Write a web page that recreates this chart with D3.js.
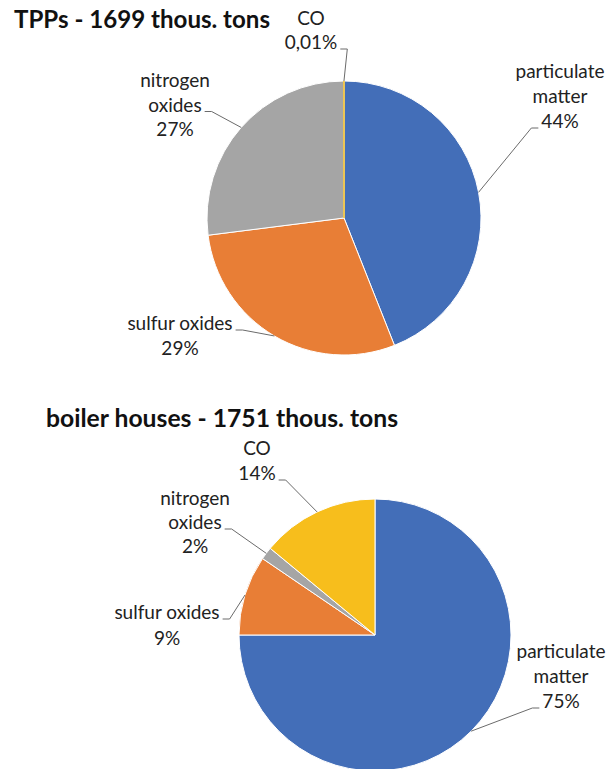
<!DOCTYPE html>
<html><head><meta charset="utf-8">
<script src="https://cdn.jsdelivr.net/npm/d3@7"></script>
<style>
body{margin:0;background:#fff}
svg{display:block}
text{font-family:Lato,"Open Sans",sans-serif}
</style>
</head><body>
<svg id="c" width="614" height="769"></svg>
<script>
// ---- data ----
const categories = ["particulate matter", "sulfur oxides", "nitrogen oxides", "CO"];
const tppValues = [44, 29, 27, 0.01];
const tppPercentLabels = ["44%", "29%", "27%", "0,01%"];
const boilerValues = [75, 9.5, 1.5, 14];
const boilerPercentLabels = ["75%", "9%", "2%", "14%"];
const colors = ["#436EB8", "#E87E36", "#A5A5A5", "#F7BE1C"];
const titles = ["TPPs - 1699 thous. tons", "boiler houses - 1751 thous. tons"];

// ---- layout ----
const charts = [
  { title: titles[0], values: tppValues, pct: tppPercentLabels, cx: 344, cy: 218, r: 137, tx: 14, ty: 28, tw: 256,
    labels: [
      { lines: ["particulate", "matter"], x: 560, y: 78, lh: 25, side: "left", attach: 2 },
      { lines: ["sulfur oxides"], x: 180, y: 330, lh: 25, side: "right", attach: 0 },
      { lines: ["nitrogen", "oxides"], x: 175, y: 87, lh: 24.5, side: "right", attach: 1 },
      { lines: ["CO"], x: 311, y: 25, lh: 24, side: "right", attach: 1 }
    ] },
  { title: titles[1], values: boilerValues, pct: boilerPercentLabels, cx: 375, cy: 635, r: 136, tx: 46, ty: 427, tw: 352,
    labels: [
      { lines: ["particulate", "matter"], x: 561, y: 658, lh: 25, side: "left", attach: 2 },
      { lines: ["sulfur oxides"], x: 167, y: 619, lh: 26, side: "right", attach: 0 },
      { lines: ["nitrogen", "oxides"], x: 195, y: 505, lh: 24, side: "right", attach: 1 },
      { lines: ["CO"], x: 257, y: 455, lh: 25, side: "right", attach: 1 }
    ] }
];

const svg = d3.select("#c");
svg.append("rect").attr("width", 614).attr("height", 769).attr("fill", "#fff");

charts.forEach(ch => {
  const g = svg.append("g");
  const pie = d3.pie().sort(null).value(d => d);
  const arcs = pie(ch.values);
  const total = d3.sum(ch.values);
  const arc = d3.arc().innerRadius(0).outerRadius(ch.r);

  g.selectAll("path.slice").data(arcs).enter().append("path")
    .attr("class", "slice")
    .attr("transform", `translate(${ch.cx},${ch.cy})`)
    .attr("d", arc)
    .attr("fill", (d, i) => colors[i])
    .attr("stroke", (d, i) => (d.value / total < 0.005 ? colors[i] : "#fff"))
    .attr("stroke-width", (d) => (d.value / total < 0.005 ? 0.9 : 1));

  // title
  svg.append("text").attr("x", ch.tx).attr("y", ch.ty)
    .attr("font-size", 24).attr("font-weight", "bold").attr("fill", "#111")
    .attr("textLength", ch.tw).attr("lengthAdjust", "spacingAndGlyphs")
    .text(ch.title);

  // labels + leaders
  arcs.forEach((d, i) => {
    const L = ch.labels[i];
    const lines = L.lines.concat([ch.pct[i]]);
    const t = g.append("text").attr("font-size", 19).attr("fill", "#222").attr("text-anchor", "middle");
    const nodes = lines.map((s, k) => t.append("tspan").attr("x", L.x).attr("y", L.y + k * L.lh).text(s));
    const len = nodes[L.attach].node().getComputedTextLength();
    const ly = L.y + L.attach * L.lh;
    const mid = (d.startAngle + d.endAngle) / 2;
    const ex = ch.cx + ch.r * Math.sin(mid), ey = ch.cy - ch.r * Math.cos(mid);
    let sx, bx;
    if (L.side === "right") { sx = L.x + len / 2 + 3; bx = sx + 7; }
    else { sx = L.x - len / 2 - 3; bx = sx - 7; }
    g.append("path")
      .attr("d", d3.line()([[sx, ly], [bx, ly], [ex, ey]]))
      .attr("fill", "none").attr("stroke", "#6b6b6b").attr("stroke-width", 1);
  });
});
</script>
</body></html>
